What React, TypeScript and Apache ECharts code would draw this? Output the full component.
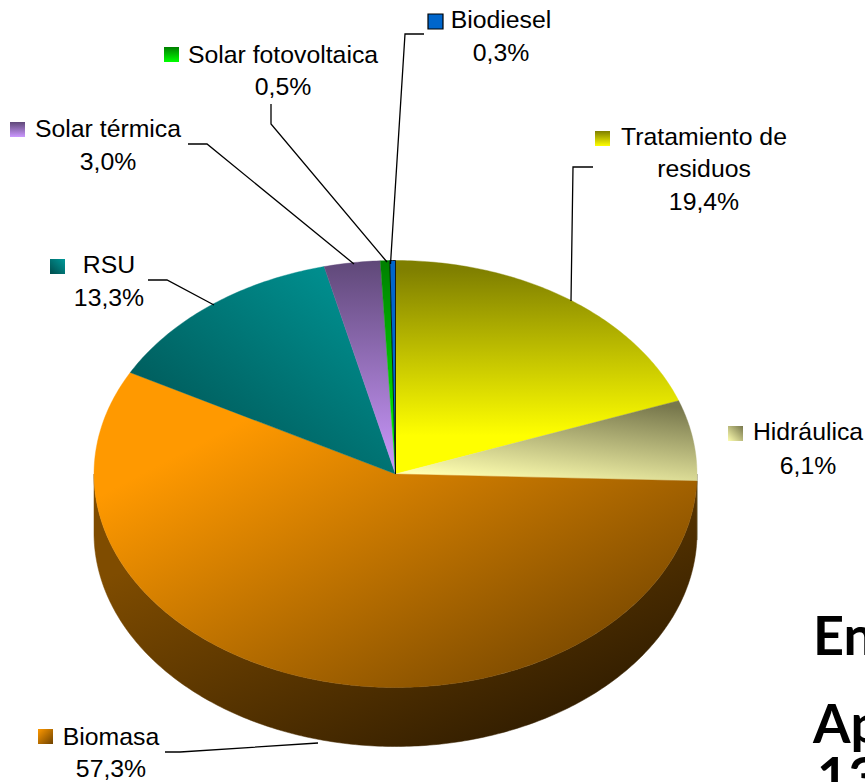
import React, { useEffect, useRef } from "react";
import * as echarts from "echarts";

const categories = ["Tratamiento de\nresiduos", "Hidráulica", "Biomasa", "RSU", "Solar térmica", "Solar fotovoltaica", "Biodiesel"];
const seriesValues = [19.4, 6.1, 57.3, 13.3, 3.0, 0.5, 0.3];
const cornerTexts = ["En", "Ap", "13"];

const linear = (x: number, y: number, x2: number, y2: number, ...stops: [number, string][]) => ({
  type: "linear", x, y, x2, y2,
  colorStops: stops.map(([offset, color]) => ({ offset, color })),
});

const topFills = [
  linear(0, 0.04, 0, 0.82, [0, "#7f7f00"], [1, "#ffff00"]),
  linear(0.75, 0, 0.3, 1, [0, "#77774c"], [1, "#ffffb0"]),
  linear(0, 0, 1, 1, [0, "#ff9900"], [0.2, "#ff9900"], [1, "#613a00"]),
  linear(1, 0, 0, 1, [0, "#009999"], [1, "#004c4c"]),
  linear(0, 0, 0, 1, [0, "#5f4878"], [1, "#cc99ff"]),
  linear(0, 0, 0, 1, [0, "#007f00"], [1, "#00ff00"]),
  linear(0, 0, 0, 1, [0, "#0066cc"], [1, "#0066cc"]),
];
const sideFills = [
  "#3f3f00", "#55552f",
  linear(0, 0, 1, 1, [0, "#7f4c00"], [0.2, "#7f4c00"], [1, "#1f1200"]),
  "#004c4c", "#4c3a60", "#004000", "#003366",
];
const keyFills = [
  linear(0, 0, 0, 1, [0, "#7f7f00"], [1, "#ffff00"]),
  linear(1, 0, 0, 1, [0, "#77774c"], [1, "#ffffb0"]),
  linear(0, 0, 1, 1, [0, "#ff9900"], [1, "#6e4200"]),
  linear(1, 0, 0, 1, [0, "#009999"], [1, "#004c4c"]),
  linear(0, 0, 0, 1, [0, "#5f4878"], [1, "#cc99ff"]),
  linear(0, 0, 0, 1, [0, "#007f00"], [1, "#00ff00"]),
  linear(0, 0, 0, 1, [0, "#0066cc"], [1, "#0066cc"]),
];

// Layout only: projected pie geometry
const pie = { cx: 395.5, cy: 474, rx: 301.5, ry: 213.5, depth: 59 };
// Layout only: label centre x, first-line centre y, line height, key position
const labelLayout = [
  { x: 704, y: 136, lh: 32.5, kx: 595, ky: 131 },
  { x: 808, y: 431, lh: 34, kx: 728, ky: 426 },
  { x: 111, y: 736, lh: 32, kx: 38, ky: 729 },
  { x: 109, y: 264, lh: 33, kx: 50, ky: 259 },
  { x: 108, y: 128, lh: 33, kx: 10, ky: 122 },
  { x: 283, y: 54, lh: 32, kx: 164, ky: 47 },
  { x: 501, y: 19, lh: 33, kx: 428, ky: 14 },
];
const leaderLayout = [
  [[593, 167], [573, 167], [571, 301]],
  null,
  [[165, 752], [180, 752], [318, 743]],
  [[148, 280], [167, 280], [214, 305]],
  [[188, 144], [207, 144], [354, 264]],
  [[271, 104], [271, 124], [387, 262]],
  [[424, 34], [405, 34], [390.5, 264]],
];
const cornerLayout = [
  { x: 813, y: 607.5 },
  { x: 813, y: 695.5 },
  { x: 817, y: 748 },
];

const total = seriesValues.reduce((a, b) => a + b, 0);
const point = (deg: number, dy = 0) => {
  const t = (deg * Math.PI) / 180;
  return [pie.cx + pie.rx * Math.sin(t), pie.cy - pie.ry * Math.cos(t) + dy];
};
const arc = (from: number, to: number, dy = 0) => {
  const pts: number[][] = [];
  const n = Math.max(2, Math.ceil((to - from) / 0.75));
  for (let i = 0; i <= n; i++) pts.push(point(from + ((to - from) * i) / n, dy));
  return pts;
};

const renderSlice = (params: any, api: any) => {
  const i = params.dataIndex;
  const before = seriesValues.slice(0, i).reduce((a, b) => a + b, 0);
  const a0 = (before / total) * 360;
  const a1 = a0 + (api.value(0) / total) * 360;
  const children: any[] = [];
  const s0 = Math.max(a0, 90);
  const s1 = Math.min(a1, 270);
  if (s1 > s0) {
    const upper = arc(s0, s1);
    const lower = arc(s0, s1, pie.depth).reverse();
    children.push({
      type: "polygon",
      shape: { points: upper.concat(lower) },
      style: { fill: sideFills[i], stroke: sideFills[i], lineWidth: 0.5 },
    });
  }
  const isBorderless = i !== 6;
  children.push({
    type: "polygon",
    shape: { points: [[pie.cx, pie.cy], ...arc(a0, a1)] },
    style: {
      fill: topFills[i],
      stroke: isBorderless ? topFills[i] : "#000000",
      lineWidth: isBorderless ? 0.4 : 0.8,
    },
  });
  return { type: "group", children };
};

const font = '"Liberation Sans", Arial, sans-serif';

const buildGraphics = () => {
  const els: any[] = [];
  categories.forEach((name, i) => {
    const l = labelLayout[i];
    const lines = name.split("\n").concat(seriesValues[i].toFixed(1).replace(".", ",") + "%");
    lines.forEach((line, k) => {
      els.push({
        type: "text", x: l.x, y: l.y + k * l.lh,
        style: { text: line, font: `24.8px ${font}`, fill: "#000000", align: "center", verticalAlign: "middle" },
      });
    });
    els.push({
      type: "rect", shape: { x: l.kx, y: l.ky, width: 15, height: 15 },
      style: { fill: keyFills[i], stroke: i === 6 ? "#000000" : undefined, lineWidth: i === 6 ? 1.2 : 0 },
    });
    const leader = leaderLayout[i];
    if (leader) {
      els.push({
        type: "polyline", shape: { points: leader }, z: 10,
        style: { stroke: "#000000", lineWidth: 1.3, fill: "none" },
      });
    }
  });
  cornerTexts.forEach((text, i) => {
    els.push({
      type: "text", x: cornerLayout[i].x, y: cornerLayout[i].y,
      style: { text, font: `bold 54px Lato, sans-serif`, fill: "#000000", align: "left", verticalAlign: "top" },
    });
  });
  return els;
};

export default function App() {
  const ref = useRef<HTMLDivElement>(null);
  useEffect(() => {
    const chart = echarts.init(ref.current!, undefined, { renderer: "svg" });
    chart.setOption({
      animation: false,
      backgroundColor: "#ffffff",
      series: [{
        type: "custom",
        coordinateSystem: "none",
        silent: true,
        renderItem: renderSlice,
        data: seriesValues.map((v, i) => ({ name: categories[i], value: [v] })),
      }],
      graphic: { elements: buildGraphics() },
    });
    return () => chart.dispose();
  }, []);
  return <div ref={ref} style={{ position: "absolute", left: 0, top: 0, width: 865, height: 782, overflow: "hidden" }} />;
}
